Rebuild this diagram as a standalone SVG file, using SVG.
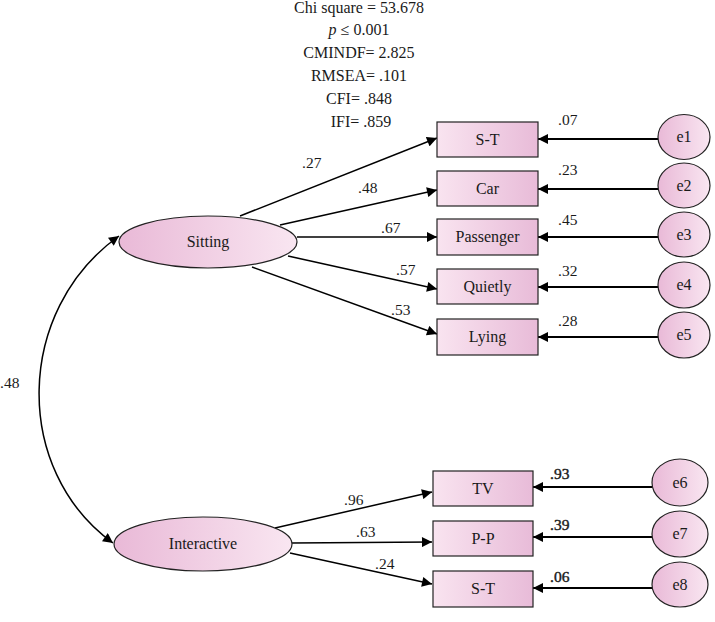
<svg xmlns="http://www.w3.org/2000/svg" width="715" height="622" viewBox="0 0 715 622" font-family="'Liberation Serif', 'DejaVu Serif', serif">
<style>
text{font-family:"Liberation Serif","DejaVu Serif",serif;fill:#1a1a1a}
.fit{font-size:16px;text-anchor:middle}
.lbl{font-size:16px;text-anchor:middle}
.num{font-size:15.5px}
.bn{stroke:#1a1a1a;stroke-width:0.4}
.lat{fill:url(#gEll);stroke:#222;stroke-width:1.2}
.box{fill:url(#gBox);stroke:#222;stroke-width:1.2}
.err{fill:url(#gEll);stroke:#222;stroke-width:1.2}
.path{stroke:#000;stroke-width:1.5;fill:none;marker-end:url(#ah)}
.epath{stroke:#000;stroke-width:2;fill:none;marker-end:url(#ah)}
</style>
<defs>
<linearGradient id="gEll" x1="0" y1="0" x2="1" y2="0">
<stop offset="0" stop-color="#e9b9d7"/><stop offset="1" stop-color="#f9e6f1"/>
</linearGradient>
<linearGradient id="gBox" x1="0" y1="0" x2="1" y2="0">
<stop offset="0" stop-color="#f9e4f0"/><stop offset="1" stop-color="#e8bbd8"/>
</linearGradient>
<marker id="ah" viewBox="0 0 10 10" refX="10" refY="5" markerWidth="11" markerHeight="10" orient="auto" markerUnits="userSpaceOnUse">
<path d="M0,0 L10,5 L0,10 z" fill="#000"/>
</marker>
<marker id="ahs" viewBox="0 0 10 10" refX="0" refY="5" markerWidth="11" markerHeight="10" orient="auto" markerUnits="userSpaceOnUse">
<path d="M10,0 L0,5 L10,10 z" fill="#000"/>
</marker>
</defs>

<g id="fit-stats">
<text class="fit" x="359" y="13">Chi square = 53.678</text>
<text class="fit" x="359" y="35"><tspan font-style="italic">p</tspan> ≤ 0.001</text>
<text class="fit" x="359" y="58">CMINDF= 2.825</text>
<text class="fit" x="359" y="81">RMSEA= .101</text>
<text class="fit" x="359" y="104">CFI= .848</text>
<text class="fit" x="361" y="127">IFI= .859</text>
</g>

<g id="connectors">
<path class="path" d="M119,236 C15,310 12,470 113,543" marker-start="url(#ahs)"/>
<line class="path" x1="240" y1="216" x2="437" y2="138"/>
<line class="path" x1="280" y1="225" x2="437" y2="190"/>
<line class="path" x1="297" y1="237" x2="437" y2="237"/>
<line class="path" x1="288" y1="256" x2="437" y2="289"/>
<line class="path" x1="252" y1="267" x2="437" y2="334"/>
<line class="path" x1="275" y1="528" x2="432" y2="492"/>
<line class="path" x1="292" y1="543" x2="432" y2="542"/>
<line class="path" x1="290" y1="553" x2="432" y2="584"/>
<line class="epath" x1="658" y1="139" x2="538" y2="139"/>
<line class="epath" x1="658" y1="189" x2="538" y2="189"/>
<line class="epath" x1="658" y1="237" x2="538" y2="237"/>
<line class="epath" x1="658" y1="287" x2="538" y2="287"/>
<line class="epath" x1="658" y1="337" x2="538" y2="337"/>
<line class="epath" x1="652" y1="487" x2="533" y2="487"/>
<line class="epath" x1="652" y1="537" x2="533" y2="537"/>
<line class="epath" x1="652" y1="588" x2="533" y2="588"/>
<text class="num" x="0" y="388">.48</text>
<text class="num" x="302" y="168">.27</text>
<text class="num" x="358" y="193">.48</text>
<text class="num" x="381" y="233">.67</text>
<text class="num" x="396" y="275">.57</text>
<text class="num" x="391" y="315">.53</text>
<text class="num" x="344" y="505">.96</text>
<text class="num" x="356" y="537">.63</text>
<text class="num" x="375" y="569">.24</text>
<text class="num" x="558" y="125">.07</text>
<text class="num" x="558" y="175">.23</text>
<text class="num" x="558" y="225">.45</text>
<text class="num" x="558" y="276">.32</text>
<text class="num" x="558" y="326">.28</text>
<text class="num bn" x="550" y="479">.93</text>
<text class="num bn" x="550" y="530">.39</text>
<text class="num bn" x="550" y="582">.06</text>
</g>

<g id="sitting"><ellipse class="lat" cx="208" cy="242" rx="89" ry="26"/><text class="lbl" x="208" y="247" font-size="16.5">Sitting</text></g>
<g id="interactive"><ellipse class="lat" cx="203" cy="544" rx="89" ry="27"/><text class="lbl" x="203" y="549" font-size="16.5">Interactive</text></g>

<g id="st1"><rect class="box" x="437" y="122" width="101" height="35"/><text class="lbl" x="487.5" y="145">S-T</text></g>
<g id="car"><rect class="box" x="437" y="171" width="101" height="35"/><text class="lbl" x="487.5" y="194">Car</text></g>
<g id="passenger"><rect class="box" x="437" y="219" width="101" height="36"/><text class="lbl" x="487.5" y="242">Passenger</text></g>
<g id="quietly"><rect class="box" x="437" y="269" width="101" height="35"/><text class="lbl" x="487.5" y="292">Quietly</text></g>
<g id="lying"><rect class="box" x="437" y="319" width="101" height="36"/><text class="lbl" x="487.5" y="342">Lying</text></g>
<g id="tv"><rect class="box" x="433" y="471" width="100" height="35"/><text class="lbl" x="483" y="494">TV</text></g>
<g id="pp"><rect class="box" x="433" y="521" width="100" height="35"/><text class="lbl" x="483" y="544">P-P</text></g>
<g id="st2"><rect class="box" x="433" y="571" width="100" height="36"/><text class="lbl" x="483" y="594">S-T</text></g>

<g id="e1"><ellipse class="err" cx="684" cy="137" rx="26" ry="22.5"/><text class="lbl" x="684" y="142">e1</text></g>
<g id="e2"><ellipse class="err" cx="684" cy="185.5" rx="26" ry="22.5"/><text class="lbl" x="684" y="191">e2</text></g>
<g id="e3"><ellipse class="err" cx="684" cy="234.5" rx="26" ry="22.5"/><text class="lbl" x="684" y="240">e3</text></g>
<g id="e4"><ellipse class="err" cx="684" cy="285" rx="26" ry="23"/><text class="lbl" x="684" y="290">e4</text></g>
<g id="e5"><ellipse class="err" cx="684" cy="335" rx="26" ry="23"/><text class="lbl" x="684" y="340">e5</text></g>
<g id="e6"><ellipse class="err" cx="680" cy="482.5" rx="28" ry="23.5"/><text class="lbl" x="680" y="488">e6</text></g>
<g id="e7"><ellipse class="err" cx="680" cy="534" rx="28" ry="23"/><text class="lbl" x="680" y="539">e7</text></g>
<g id="e8"><ellipse class="err" cx="680" cy="584.5" rx="28" ry="22.5"/><text class="lbl" x="680" y="590">e8</text></g>
</svg>
